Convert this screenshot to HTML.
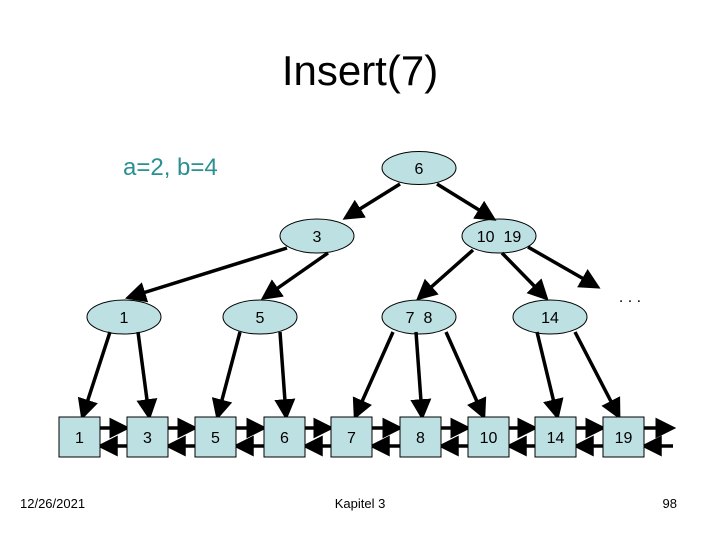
<!DOCTYPE html>
<html><head><style>
body{margin:0;background:#fff}
svg{display:block}
text{font-family:"Liberation Sans",Arial,sans-serif}
</style></head><body>
<svg width="720" height="540" viewBox="0 0 720 540">
<defs>
<marker id="a" markerWidth="6" markerHeight="6" refX="4.5" refY="3" orient="auto" markerUnits="strokeWidth"><path d="M0,0 L6,3 L0,6 z" fill="#000"/></marker>
</defs>
<text x="360" y="85" font-size="42" text-anchor="middle">Insert(7)</text>
<text x="123" y="175" font-size="24" fill="#2a9090">a=2, b=4</text>
<g fill="#bde0e2" stroke="#000" stroke-width="1">
<ellipse cx="419" cy="168" rx="37" ry="16.5"/>
<ellipse cx="317" cy="236" rx="37" ry="17"/>
<ellipse cx="499" cy="236" rx="37" ry="17"/>
<ellipse cx="124" cy="317" rx="37" ry="17"/>
<ellipse cx="260" cy="317" rx="37" ry="17"/>
<ellipse cx="419" cy="317" rx="37" ry="17"/>
<ellipse cx="550" cy="317" rx="37" ry="17"/>
</g>
<g font-size="16" text-anchor="middle">
<text x="419" y="174">6</text>
<text x="317" y="242">3</text>
<text x="499" y="242">10&#160;&#160;19</text>
<text x="124" y="323">1</text>
<text x="260" y="323">5</text>
<text x="419" y="323">7&#160;&#160;8</text>
<text x="550" y="323">14</text>
</g>
<text x="630" y="302" font-size="16" text-anchor="middle">. . .</text>
<g stroke="#000" stroke-width="3.5" marker-end="url(#a)">
<line x1="400" y1="184" x2="347" y2="217"/>
<line x1="437" y1="184" x2="492" y2="218"/>
<line x1="287" y1="248" x2="130" y2="297"/>
<line x1="328" y1="253" x2="265" y2="297"/>
<line x1="473" y1="250" x2="420" y2="297"/>
<line x1="502" y1="253" x2="545" y2="297"/>
<line x1="528" y1="247" x2="596" y2="286"/>
<line x1="110" y1="332" x2="83" y2="415"/>
<line x1="138" y1="332" x2="149" y2="415"/>
<line x1="240" y1="332" x2="218" y2="415"/>
<line x1="280" y1="332" x2="286" y2="415"/>
<line x1="393" y1="332" x2="356" y2="415"/>
<line x1="416" y1="332" x2="422" y2="415"/>
<line x1="446" y1="332" x2="483" y2="415"/>
<line x1="537" y1="332" x2="557" y2="415"/>
<line x1="575" y1="332" x2="618" y2="415"/>
</g>
<g stroke="#000" stroke-width="3.5" marker-end="url(#a)">
<line x1="100" y1="428" x2="125" y2="428"/><line x1="127" y1="446" x2="102" y2="446"/>
<line x1="168" y1="428" x2="193" y2="428"/><line x1="195" y1="446" x2="170" y2="446"/>
<line x1="236" y1="428" x2="262" y2="428"/><line x1="264" y1="446" x2="238" y2="446"/>
<line x1="305" y1="428" x2="329" y2="428"/><line x1="331" y1="446" x2="307" y2="446"/>
<line x1="372" y1="428" x2="398" y2="428"/><line x1="400" y1="446" x2="374" y2="446"/>
<line x1="441" y1="428" x2="466" y2="428"/><line x1="468" y1="446" x2="443" y2="446"/>
<line x1="509" y1="428" x2="533" y2="428"/><line x1="535" y1="446" x2="511" y2="446"/>
<line x1="576" y1="428" x2="601" y2="428"/><line x1="603" y1="446" x2="578" y2="446"/>
<line x1="644" y1="428" x2="671" y2="428"/><line x1="673" y1="446" x2="646" y2="446"/>
</g>
<g fill="#bde0e2" stroke="#000" stroke-width="1">
<rect x="59" y="417" width="41" height="40"/>
<rect x="127" y="417" width="41" height="40"/>
<rect x="195" y="417" width="41" height="40"/>
<rect x="264" y="417" width="41" height="40"/>
<rect x="331" y="417" width="41" height="40"/>
<rect x="400" y="417" width="41" height="40"/>
<rect x="468" y="417" width="41" height="40"/>
<rect x="535" y="417" width="41" height="40"/>
<rect x="603" y="417" width="41" height="40"/>
</g>
<g font-size="16" text-anchor="middle">
<text x="79.5" y="443">1</text>
<text x="147.5" y="443">3</text>
<text x="215.5" y="443">5</text>
<text x="284.5" y="443">6</text>
<text x="351.5" y="443">7</text>
<text x="420.5" y="443">8</text>
<text x="488.5" y="443">10</text>
<text x="555.5" y="443">14</text>
<text x="623.5" y="443">19</text>
</g>
<g font-size="13">
<text x="20" y="508">12/26/2021</text>
<text x="360" y="508" text-anchor="middle">Kapitel 3</text>
<text x="677" y="508" text-anchor="end">98</text>
</g>
</svg>
</body></html>
